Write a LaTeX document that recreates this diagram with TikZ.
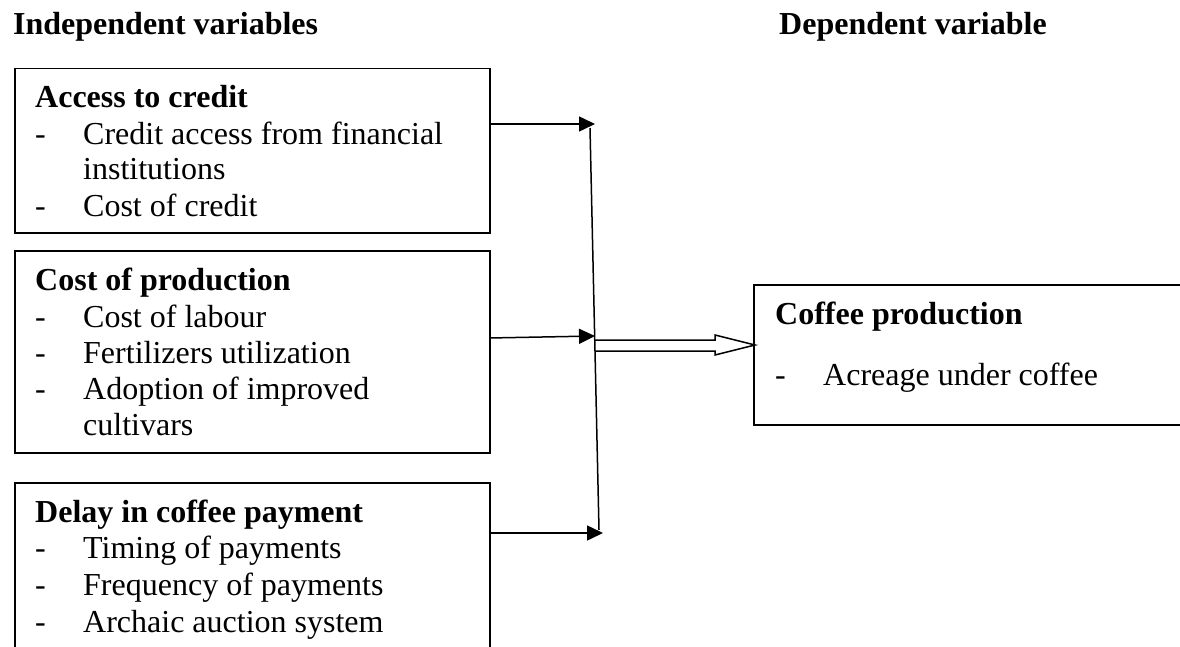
\documentclass[tikz,border=0pt]{standalone}
\usepackage{fontspec}
\setmainfont{Liberation Serif}
\usetikzlibrary{arrows.meta}
\tikzset{
  lbl/.style={anchor=base west, inner sep=0pt, font=\fontsize{32}{36}\selectfont},
  ttl/.style={lbl, font=\fontsize{32}{36}\selectfont\bfseries},
  boxnode/.style={draw, line width=1.5pt, anchor=north west, inner sep=0pt},
  conn/.style={line width=1.5pt},
  arr/.style={conn, -{Triangle[length=16pt,width=15pt]}},
}
\begin{document}
\begin{tikzpicture}[x=1pt,y=-1pt]
\clip (0,0) rectangle (1180,647);
\fill[white] (0,0) rectangle (1180,647);
% titles
\node[ttl] (indep) at (13,35) {Independent variables};
\node[ttl] (dep) at (779,35) {Dependent variable};
% boxes
\node[boxnode, minimum width=475pt, minimum height=164pt] (box1) at (14,68) {};
\node[boxnode, minimum width=475pt, minimum height=202pt] (box2) at (14,250) {};
\node[boxnode, minimum width=475pt, minimum height=250pt] (box3) at (14,482) {};
\node[boxnode, minimum width=480pt, minimum height=140pt] (box4) at (753,284) {};
% box 1 text
\node[ttl] (b1t) at (35,108) {Access to credit};
\node[lbl] (b1d1) at (35,145) {-};
\node[lbl] (b1l1) at (83,145) {Credit access from financial};
\node[lbl] (b1l1b) at (83,180) {institutions};
\node[lbl] (b1d2) at (35,217) {-};
\node[lbl] (b1l2) at (83,217) {Cost of credit};
% box 2 text
\node[ttl] (b2t) at (35,290) {Cost of production};
\node[lbl] (b2d1) at (35,327) {-};
\node[lbl] (b2l1) at (83,327) {Cost of labour};
\node[lbl] (b2d2) at (35,363) {-};
\node[lbl] (b2l2) at (83,363) {Fertilizers utilization};
\node[lbl] (b2d3) at (35,399) {-};
\node[lbl] (b2l3) at (83,399) {Adoption of improved};
\node[lbl] (b2l3b) at (83,435) {cultivars};
% box 3 text
\node[ttl] (b3t) at (35,522) {Delay in coffee payment};
\node[lbl] (b3d1) at (35,558) {-};
\node[lbl] (b3l1) at (83,558) {Timing of payments};
\node[lbl] (b3d2) at (35,595) {-};
\node[lbl] (b3l2) at (83,595) {Frequency of payments};
\node[lbl] (b3d3) at (35,632) {-};
\node[lbl] (b3l3) at (83,632) {Archaic auction system};
% coffee box text
\node[ttl] (b4t) at (775,324) {Coffee production};
\node[lbl] (b4d1) at (775,385) {-};
\node[lbl] (b4l1) at (823,385) {Acreage under coffee};
% connector points
\coordinate (t1) at (595,124);
\coordinate (s2) at (489,338);
\coordinate (t2) at (595,336);
\coordinate (t3) at (603,533);
\coordinate (v1) at (590,128);
\coordinate (v2) at (599,530);
\coordinate (d0) at (595,340);
\coordinate (dtip) at (755,345);
% arrows
\draw[arr] (box1.east |- t1) -- (t1);
\draw[arr] (s2) -- (t2);
\draw[arr] (box3.east |- t3) -- (t3);
\draw[conn] (v1) -- (v2);
\draw[conn, line join=miter] (d0) -- ++(120,0) -- ++(0,-5) -- (dtip) -- ++(-40,10) -- ++(0,-4) -- ++(-120,0);
\end{tikzpicture}
\end{document}
